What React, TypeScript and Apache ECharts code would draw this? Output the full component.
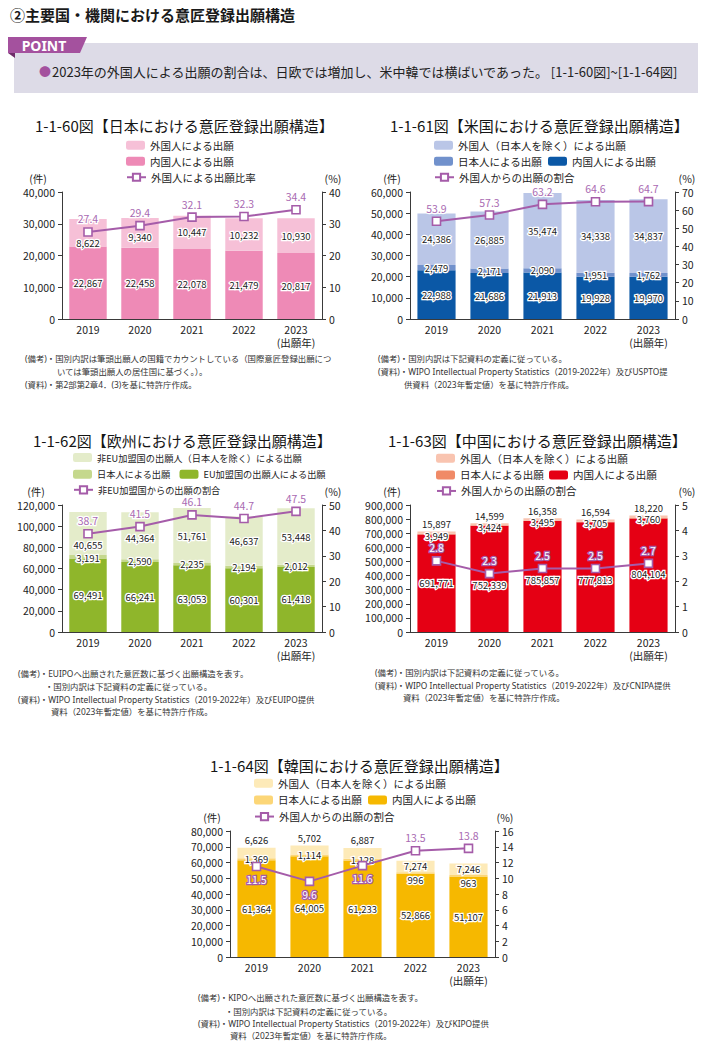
import React, { useEffect, useRef } from 'react';
import * as echarts from 'echarts';

const FONT = '"Noto Sans CJK JP", "Noto Sans", sans-serif';
const NOTE_FONT = '"Noto Sans", "Noto Sans CJK JP", sans-serif';

// ---------- data ----------
const YEARS = ['2019', '2020', '2021', '2022', '2023'];
const YEAR_NOTE = '(出願年)';

const JP_DOMESTIC = [22867, 22458, 22078, 21479, 20817];
const JP_FOREIGN = [8622, 9340, 10447, 10232, 10930];
const JP_RATIO = [27.4, 29.4, 32.1, 32.3, 34.4];

const US_DOMESTIC = [22988, 21686, 21913, 19928, 19970];
const US_JAPANESE = [2479, 2171, 2090, 1951, 1762];
const US_FOREIGN = [24386, 26885, 35474, 34338, 34837];
const US_RATIO = [53.9, 57.3, 63.2, 64.6, 64.7];

const EU_MEMBER = [69491, 66241, 63053, 60301, 61418];
const EU_JAPANESE = [3191, 2590, 2235, 2194, 2012];
const EU_NONMEMBER = [40655, 44364, 51761, 46637, 53448];
const EU_RATIO = [38.7, 41.5, 46.1, 44.7, 47.5];

const CN_DOMESTIC = [691771, 752339, 785857, 777813, 804104];
const CN_JAPANESE = [3949, 3424, 3495, 3705, 3760];
const CN_FOREIGN = [15897, 14599, 16358, 16594, 18220];
const CN_RATIO = [2.8, 2.3, 2.5, 2.5, 2.7];

const KR_DOMESTIC = [61364, 64005, 61233, 52866, 51107];
const KR_JAPANESE = [1369, 1114, 1128, 996, 963];
const KR_FOREIGN = [6626, 5702, 6887, 7274, 7246];
const KR_RATIO = [11.5, 9.6, 11.6, 13.5, 13.8];

// axis scales [leftMax, leftInterval, rightMax, rightInterval]
const JP_AXES = [40000, 10000, 40, 10];
const US_AXES = [60000, 10000, 70, 10];
const EU_AXES = [120000, 20000, 50, 10];
const CN_AXES = [900000, 100000, 5, 1];
const KR_AXES = [80000, 10000, 16, 2];

const N_FOREIGN_EXJP = '外国人（日本人を除く）による出願';
const N_JAPANESE = '日本人による出願';
const N_DOMESTIC = '内国人による出願';
const N_RATIO = '外国人からの出願の割合';

const PURPLE = '#a55ca9';
const LABEL_PURPLE = '#a96ab2';
const AXIS = '#3a3a3a';

const CHARTS: any[] = [
  {
    key: 'jp', title: '1-1-60図【日本における意匠登録出願構造】', tx: 35, ty: 125,
    grid: { left: 62, top: 192, width: 260, height: 127 }, axes: JP_AXES,
    domestic: JP_DOMESTIC, japanese: null, foreign: JP_FOREIGN, ratio: JP_RATIO,
    colors: { d: '#ee8ab6', f: '#f6c0d7' },
    names: { f: '外国人による出願', d: '内国人による出願', r: '外国人による出願比率' },
    legendRows: [[['f'], 126, 147, 0], [['d'], 126, 163, 0], [['r'], 126, 179, 0]], legendFont: 10.5,
    unitY: 178.5, unitL: 38, unitR: 333, whiteInside: false, insidePos: 'top',
  },
  {
    key: 'us', title: '1-1-61図【米国における意匠登録出願構造】', tx: 390, ty: 125,
    grid: { left: 410, top: 192, width: 265, height: 127 }, axes: US_AXES,
    domestic: US_DOMESTIC, japanese: US_JAPANESE, foreign: US_FOREIGN, ratio: US_RATIO,
    colors: { d: '#0b58a6', j: '#7191cc', f: '#bac6e7' },
    names: { f: N_FOREIGN_EXJP, j: N_JAPANESE, d: N_DOMESTIC, r: N_RATIO },
    legendRows: [[['f'], 434, 147, 0], [['j', 'd'], 434, 163, 6], [['r'], 434, 179, 0]], legendFont: 10.5,
    unitY: 178.5, unitL: 392, unitR: 687, whiteInside: false, insidePos: 'top',
  },
  {
    key: 'eu', title: '1-1-62図【欧州における意匠登録出願構造】', tx: 33, ty: 440,
    grid: { left: 62, top: 505, width: 260, height: 127 }, axes: EU_AXES,
    domestic: EU_MEMBER, japanese: EU_JAPANESE, foreign: EU_NONMEMBER, ratio: EU_RATIO,
    colors: { d: '#8fb62b', j: '#c5d88d', f: '#e4ecca' },
    names: {
      f: '非EU加盟国の出願人（日本人を除く）による出願', j: N_JAPANESE,
      d: 'EU加盟国の出願人による出願', r: '非EU加盟国からの出願の割合',
    },
    legendRows: [[['f'], 73, 460, 0], [['j', 'd'], 73, 476.7, 9], [['r'], 73, 492.2, 0]], legendFont: 9.2,
    unitY: 491, unitL: 36, unitR: 333, whiteInside: false, insidePos: 'top',
  },
  {
    key: 'cn', title: '1-1-63図【中国における意匠登録出願構造】', tx: 388, ty: 440,
    grid: { left: 410, top: 505, width: 265, height: 127 }, axes: CN_AXES,
    domestic: CN_DOMESTIC, japanese: CN_JAPANESE, foreign: CN_FOREIGN, ratio: CN_RATIO,
    colors: { d: '#e50014', j: '#f08a67', f: '#f9c4b0' },
    names: { f: N_FOREIGN_EXJP, j: N_JAPANESE, d: N_DOMESTIC, r: N_RATIO },
    legendRows: [[['f'], 436, 460, 0], [['j', 'd'], 436, 476.7, 5], [['r'], 436, 492.7, 0]], legendFont: 10.5,
    unitY: 491, unitL: 392, unitR: 687, whiteInside: true, insidePos: 'top',
  },
  {
    key: 'kr', title: '1-1-64図【韓国における意匠登録出願構造】', tx: 210, ty: 765,
    grid: { left: 230, top: 831, width: 265, height: 126 }, axes: KR_AXES,
    domestic: KR_DOMESTIC, japanese: KR_JAPANESE, foreign: KR_FOREIGN, ratio: KR_RATIO,
    colors: { d: '#f6b800', j: '#fcd677', f: '#fdeab8' },
    names: { f: N_FOREIGN_EXJP, j: N_JAPANESE, d: N_DOMESTIC, r: N_RATIO },
    legendRows: [[['f'], 254, 785, 0], [['j', 'd'], 254, 801.7, 6], [['r'], 254, 818.3, 0]], legendFont: 10.5,
    unitY: 817, unitL: 212, unitR: 505, whiteInside: true, insidePos: 'bottom',
  },
];

const NOTES: [string, number, number][] = [
  ['(備考)・国別内訳は筆頭出願人の国籍でカウントしている（国際意匠登録出願につ', 25, 358],
  ['いては筆頭出願人の居住国に基づく。）。', 57, 371],
  ['(資料)・第2部第2章4．(3)を基に特許庁作成。', 25, 384],
  ['(備考)・国別内訳は下記資料の定義に従っている。', 378, 358],
  ['(資料)・WIPO Intellectual Property Statistics（2019-2022年）及びUSPTO提', 378, 371],
  ['供資料（2023年暫定値）を基に特許庁作成。', 404, 384],
  ['(備考)・EUIPOへ出願された意匠数に基づく出願構造を表す。', 18, 673],
  ['・国別内訳は下記資料の定義に従っている。', 45, 686],
  ['(資料)・WIPO Intellectual Property Statistics（2019-2022年）及びEUIPO提供', 18, 699],
  ['資料（2023年暫定値）を基に特許庁作成。', 51, 711],
  ['(備考)・国別内訳は下記資料の定義に従っている。', 375, 672],
  ['(資料)・WIPO Intellectual Property Statistics（2019-2022年）及びCNIPA提供', 375, 685],
  ['資料（2023年暫定値）を基に特許庁作成。', 403, 697],
  ['(備考)・KIPOへ出願された意匠数に基づく出願構造を表す。', 198, 997],
  ['・国別内訳は下記資料の定義に従っている。', 225, 1011],
  ['(資料)・WIPO Intellectual Property Statistics（2019-2022年）及びKIPO提供', 198, 1023],
  ['資料（2023年暫定値）を基に特許庁作成。', 230, 1035],
];

const HEADER = '②主要国・機関における意匠登録出願構造';
const POINT_TEXT = '2023年の外国人による出願の割合は、日欧では増加し、米中韓では横ばいであった。 [1-1-60図]~[1-1-64図]';

function txt(text: string, x: number, y: number, size: number, opts: any = {}) {
  return {
    type: 'text', x, y, z: 10,
    style: {
      text, fontSize: size, fontFamily: opts.family || FONT, fill: opts.fill || '#222',
      fontWeight: opts.weight || 'normal',
      align: opts.align || 'left', verticalAlign: 'middle',
      textAlign: opts.align || 'left', textVerticalAlign: 'middle',
    },
  };
}

const BAR_LABEL = {
  show: true, fontSize: 9.5, color: '#222', fontFamily: FONT,
  textBorderColor: '#fff', textBorderWidth: 2.5,
  formatter: (p: any) => Number(p.value).toLocaleString('en-US'),
};

const LABEL_HALF = 6.5; // half of a bar label's height, px
const TOP_DIST = 3;
const MIN_GAP = 13.5; // minimum vertical distance between two stacked labels, px
const LINE_LABEL_DIST = 3;
const SYMBOL = 8;

function buildOption() {
  const grid: any[] = [], xAxis: any[] = [], yAxis: any[] = [], series: any[] = [], legend: any[] = [];
  const elements: any[] = [];
  const nameMap: Record<string, string> = {};

  CHARTS.forEach((c, k) => {
    const [lMax, lInt, rMax, rInt] = c.axes;
    const g = c.grid;
    grid.push({ left: g.left, top: g.top, width: g.width, height: g.height });
    xAxis.push({
      type: 'category', gridIndex: k, data: YEARS,
      axisTick: { show: false },
      axisLine: { lineStyle: { color: AXIS, width: 1 } },
      axisLabel: {
        fontSize: 10.5, color: '#222', margin: 4, lineHeight: 13, fontFamily: FONT,
        formatter: (v: string) => (v === YEARS[YEARS.length - 1] ? v + '\n' + YEAR_NOTE : v),
      },
    });
    const yBase = {
      type: 'value', gridIndex: k, min: 0, splitLine: { show: false },
      axisLine: { show: true, lineStyle: { color: AXIS, width: 1 } },
      axisTick: { show: true, length: 4, lineStyle: { color: AXIS } },
    };
    yAxis.push({
      ...yBase, max: lMax, interval: lInt,
      axisLabel: { fontSize: 10.5, color: '#222', margin: 7, fontFamily: FONT, formatter: (v: number) => v.toLocaleString('en-US') },
    });
    yAxis.push({
      ...yBase, max: rMax, interval: rInt, position: 'right',
      axisLabel: { fontSize: 10.5, color: '#222', margin: 7, fontFamily: FONT },
    });

    const px = (v: number, max: number) => g.top + g.height * (1 - v / max);
    const jap: number[] = c.japanese || c.domestic.map(() => 0);
    const totals = c.domestic.map((d: number, i: number) => d + jap[i] + c.foreign[i]);
    const lineInside = c.ratio.map((v: number, i: number) => px(v, rMax) > px(totals[i], lMax));
    const stack = 'stack_' + c.key;
    const sName = (s: string) => { const n = c.key + '_' + s; nameMap[n] = c.names[s]; return n; };
    // shift a segment label below the ratio marker (and its label) when they would collide
    const avoid = (center: number, i: number) => {
      const m = px(c.ratio[i], rMax);
      let dy = Math.abs(center - m) < 12 ? m + 11 - center : 0;
      if (lineInside[i] && c.insidePos === 'bottom') {
        const lc = m + SYMBOL / 2 + LINE_LABEL_DIST + LABEL_HALF;
        if (center + dy > m && center + dy - lc < MIN_GAP) dy = lc + MIN_GAP - center;
      }
      return dy;
    };

    const foreignPlace = c.foreign.map((v: number, i: number) => {
      const bottom = c.domestic[i] + jap[i];
      const bPx = px(bottom, lMax), tPx = px(bottom + v, lMax);
      const m = px(c.ratio[i], rMax);
      if (m > bPx) return { pos: 'top', dy: 0, center: tPx - TOP_DIST - LABEL_HALF };
      const center = (bPx + tPx) / 2;
      const dy = avoid(center, i);
      return { pos: 'inside', dy, center: center + dy };
    });

    series.push({
      type: 'bar', name: sName('d'), xAxisIndex: k, yAxisIndex: 2 * k, stack, barWidth: '72%',
      itemStyle: { color: c.colors.d },
      label: { ...BAR_LABEL, position: 'inside' },
      data: c.domestic.map((v: number, i: number) => ({
        value: v, label: { offset: [0, avoid(px(v / 2, lMax), i)] },
      })),
    });
    if (c.japanese) {
      series.push({
        type: 'bar', name: sName('j'), xAxisIndex: k, yAxisIndex: 2 * k, stack, barWidth: '72%',
        itemStyle: { color: c.colors.j },
        label: { ...BAR_LABEL, position: 'inside' },
        data: c.japanese.map((v: number, i: number) => {
          const center = px(c.domestic[i] + v / 2, lMax);
          const gap = center - foreignPlace[i].center;
          const dy = gap < MIN_GAP ? foreignPlace[i].center + MIN_GAP - center : 0;
          return { value: v, label: { offset: [0, dy] } };
        }),
      });
    }
    series.push({
      type: 'bar', name: sName('f'), xAxisIndex: k, yAxisIndex: 2 * k, stack, barWidth: '72%',
      itemStyle: { color: c.colors.f },
      label: { ...BAR_LABEL },
      data: c.foreign.map((v: number, i: number) => {
        const p = foreignPlace[i];
        if (p.pos === 'top') return { value: v, label: { position: 'top', distance: TOP_DIST } };
        return { value: v, label: { position: 'inside', offset: [0, p.dy] } };
      }),
    });
    series.push({
      type: 'line', name: sName('r'), xAxisIndex: k, yAxisIndex: 2 * k + 1, z: 5,
      symbol: 'rect', symbolSize: SYMBOL,
      lineStyle: { color: PURPLE, width: 2 },
      itemStyle: { color: '#fff', borderColor: PURPLE, borderWidth: 1.6 },
      label: {
        show: true, fontSize: 10.5, distance: LINE_LABEL_DIST, fontFamily: FONT, textBorderWidth: 2.5,
        formatter: (p: any) => Number(p.value).toFixed(1),
      },
      data: c.ratio.map((v: number, i: number) => {
        const white = lineInside[i] && c.whiteInside;
        return {
          value: v,
          label: {
            position: lineInside[i] ? c.insidePos : 'top',
            color: white ? '#fff' : LABEL_PURPLE,
            textBorderColor: white ? PURPLE : '#fff',
          },
        };
      }),
    });

    c.legendRows.forEach((row: any[]) => {
      const [keys, x, y, gap] = row;
      legend.push({
        left: x, top: y - 7, padding: 0, itemWidth: 19, itemHeight: 9, itemGap: gap,
        selectedMode: false, data: keys.map((s: string) => c.key + '_' + s),
        textStyle: { fontSize: c.legendFont, color: '#222', fontFamily: FONT },
        formatter: (n: string) => nameMap[n],
      });
    });

    elements.push(txt(c.title, c.tx, c.ty, 15, { fill: '#151515' }));
    elements.push(txt('(件)', c.unitL, c.unitY, 10.5, { align: 'center' }));
    elements.push(txt('(%)', c.unitR, c.unitY, 10.5, { align: 'center' }));
  });

  // header
  elements.push(txt(HEADER, 10, 14, 15, { weight: 'bold', fill: '#1a1a1a' }));
  elements.push({ type: 'rect', shape: { x: 14, y: 43, width: 684, height: 50 }, style: { fill: '#dddbe7' }, z: 1 });
  elements.push({ type: 'polygon', shape: { points: [[8, 53], [15, 53], [15, 58]] }, style: { fill: '#6e2c69' }, z: 2 });
  elements.push({ type: 'polygon', shape: { points: [[8, 37], [87, 37], [80, 53], [8, 53]] }, style: { fill: '#a4519e' }, z: 3 });
  elements.push(txt('POINT', 44, 45.5, 14, { weight: 'bold', fill: '#fff', align: 'center', family: NOTE_FONT }));
  elements.push(txt('●', 39, 71, 12, { fill: '#a4519e' }));
  elements.push(txt(POINT_TEXT, 52, 71, 13, { fill: '#222' }));

  NOTES.forEach(([t, x, y]) => elements.push(txt(t, x, y, 8.4, { fill: '#333', family: NOTE_FONT })));

  return {
    animation: false,
    backgroundColor: '#fff',
    textStyle: { fontFamily: FONT },
    grid, xAxis, yAxis, series, legend,
    graphic: { elements },
  };
}

export default function App() {
  const ref = useRef<HTMLDivElement>(null);
  useEffect(() => {
    if (!ref.current) return;
    const chart = echarts.init(ref.current, null, { renderer: 'svg', width: 707, height: 1047 });
    chart.setOption(buildOption() as any);
    return () => chart.dispose();
  }, []);
  return (
    <div
      ref={ref}
      style={{ position: 'absolute', left: 0, top: 0, width: 707, height: 1047, background: '#fff' }}
    />
  );
}
